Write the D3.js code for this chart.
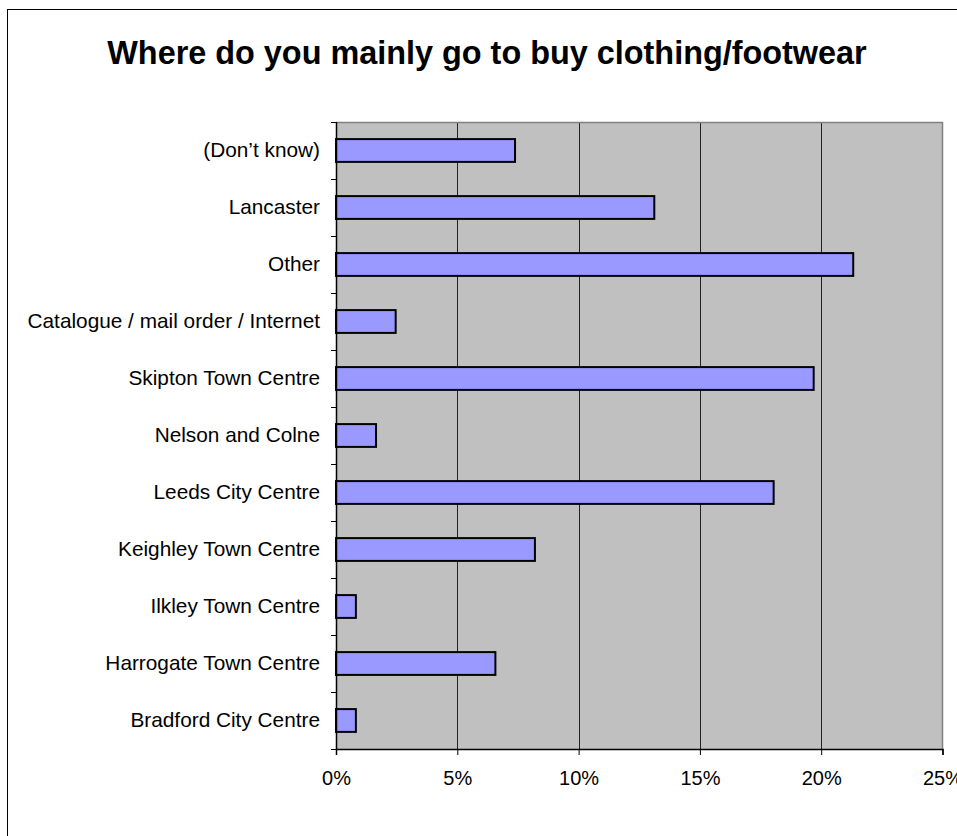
<!DOCTYPE html>
<html><head><meta charset="utf-8">
<script src="https://cdn.jsdelivr.net/npm/d3@7"></script>
<style>body{margin:0;background:#fff}svg{display:block}</style>
</head><body>
<script>
const categories = ["(Don’t know)","Lancaster","Other","Catalogue / mail order / Internet","Skipton Town Centre","Nelson and Colne","Leeds City Centre","Keighley Town Centre","Ilkley Town Centre","Harrogate Town Centre","Bradford City Centre"];
const values = [7.38,13.12,21.32,2.46,19.69,1.65,18.04,8.2,0.82,6.57,0.82];
const xTicks = [0,5,10,15,20,25];
const title = "Where do you mainly go to buy clothing/footwear";

const W=957,H=836;
const svg=d3.select("body").append("svg").attr("width",W).attr("height",H);
svg.append("rect").attr("x",7.5).attr("y",9.5).attr("width",1000).attr("height",1000)
  .attr("fill","#fff").attr("stroke","#000").attr("stroke-width",1);

const L=336,R=942.5,T=122,B=749;
const x=d3.scaleLinear().domain([0,25]).range([L,R]);
const y=d3.scaleBand().domain(categories).range([T,B]).paddingInner(0.6).paddingOuter(0.3);

svg.append("text").attr("x",487).attr("y",64).attr("text-anchor","middle")
  .attr("font-family","Liberation Sans, Arial, sans-serif").attr("font-weight","bold")
  .attr("font-size",32.4).text(title);

svg.append("rect").attr("x",L).attr("y",T).attr("width",R-L).attr("height",B-T).attr("fill","#c0c0c0");
// grid
svg.append("g").selectAll("line").data(xTicks.filter(d=>d>0&&d<25)).join("line")
  .attr("x1",d=>Math.round(x(d))+0.5).attr("x2",d=>Math.round(x(d))+0.5).attr("y1",T).attr("y2",B)
  .attr("stroke","#222").attr("stroke-width",1);
// plot border top/right
svg.append("path").attr("d",`M${L},${T+0.5}H${R}V${B}`).attr("fill","none").attr("stroke","#808080").attr("stroke-width",1.5);

// bars
svg.append("g").selectAll("rect").data(values).join("rect")
  .attr("x",x(0)).attr("y",(d,i)=>y(categories[i])).attr("width",d=>x(d)-x(0)).attr("height",y.bandwidth())
  .attr("fill","#9999ff").attr("stroke","#000").attr("stroke-width",2);

// y axis
const step=y.step();
const yb=svg.append("g");
yb.append("line").attr("x1",L+0.5).attr("x2",L+0.5).attr("y1",T).attr("y2",B).attr("stroke","#000").attr("stroke-width",1.5);
yb.selectAll(".t").data(d3.range(categories.length+1)).join("line")
  .attr("x1",L-5).attr("x2",L).attr("y1",i=>Math.round(T+i*step)+0.5).attr("y2",i=>Math.round(T+i*step)+0.5)
  .attr("stroke","#000");
yb.selectAll("text").data(categories).join("text")
  .attr("x",320).attr("y",d=>y(d)+y.bandwidth()/2).attr("dy","0.33em").attr("text-anchor","end")
  .attr("font-family","Liberation Sans, Arial, sans-serif").attr("font-size",20.8).attr("fill","#000").text(d=>d);

// x axis
const xa=d3.axisBottom(x).tickValues(xTicks).tickSize(6).tickFormat(d=>d+"%");
const gx=svg.append("g").attr("transform",`translate(0,${B})`).call(xa);
gx.select(".domain").attr("stroke","#000").attr("stroke-width",1.5);
gx.selectAll(".tick line").attr("stroke","#000");
gx.selectAll(".tick text").attr("font-family","Liberation Sans, Arial, sans-serif").attr("font-size",20).attr("fill","#000").attr("y",22).attr("dy","0.71em");
</script>
</body></html>
